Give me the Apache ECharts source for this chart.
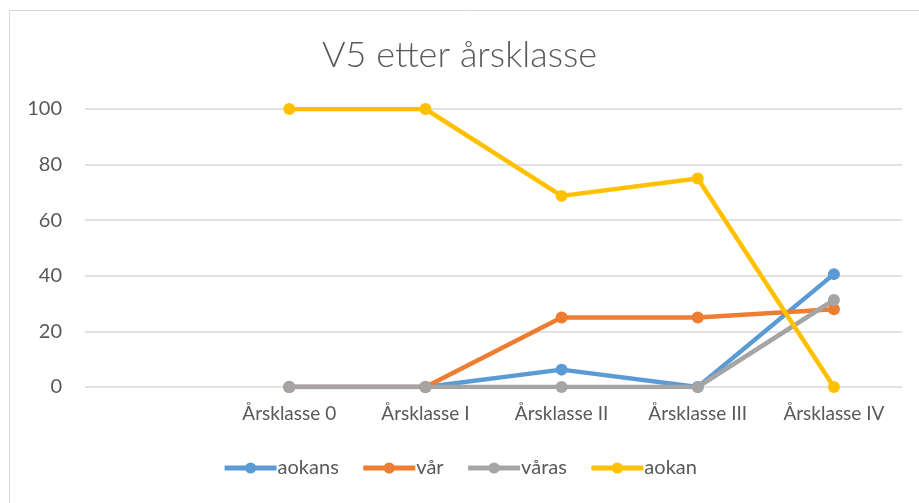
<!DOCTYPE html>
<html>
<head>
<meta charset="UTF-8">
<title>V5 etter årsklasse</title>
<script src="https://cdn.jsdelivr.net/npm/echarts@6/dist/echarts.min.js"></script>
<style>
  html, body { margin:0; padding:0; background:#fff; }
  #chart { width:919px; height:503px; }
</style>
</head>
<body>
<div id="chart"></div>
<script type="text/javascript">
// first category is empty in the source sheet
var categories = ['', 'Årsklasse 0', 'Årsklasse I', 'Årsklasse II', 'Årsklasse III', 'Årsklasse IV'];
var aokans = [null, 0, 0, 6.25, 0, 40.6];
var vaar   = [null, 0, 0, 25, 25, 28];
var vaaras = [null, 0, 0, 0, 0, 31.3];
var aokan  = [null, 100, 100, 68.75, 75, 0];

var names = ['aokans', 'vår', 'våras', 'aokan'];
var colors = ['#5b9bd5', '#ed7d31', '#a5a5a5', '#ffc000'];
var values = [aokans, vaar, vaaras, aokan];

var font = 'Lato, "Open Sans", sans-serif';

function makeSeries(){
	var list = [];
	for(var i=0; i<names.length; i++){
		list.push({
			name: names[i],
			type: 'line',
			data: values[i],
			symbol: 'circle',
			symbolSize: 12,
			lineStyle: { width: 4.5, color: colors[i] },
			itemStyle: { color: colors[i] },
			emphasis: { disabled: true },
			animation: false
		});
	}
	return list;
}

var myChart = echarts.init(document.getElementById('chart'));
var option = {
	backgroundColor: '#fff',
	color: colors,
	graphic: [{
		type: 'rect',
		shape: { x: 9.5, y: 10.5, width: 930, height: 520 },
		style: { fill: 'none', stroke: '#d9d9d9', lineWidth: 1 },
		silent: true
	}],
	title: {
		text: 'V5 etter årsklasse',
		left: 'center',
		top: 32,
		textStyle: { fontFamily: font, fontWeight: 300, fontSize: 36, color: '#595959' }
	},
	legend: {
		data: names,
		bottom: 20,
		left: 'center',
		itemWidth: 52,
		itemHeight: 14,
		itemGap: 22,
		lineStyle: { width: 5 },
		textStyle: { fontFamily: font, fontSize: 20, color: '#595959', padding: [0, 0, 0, -4] }
	},
	grid: { left: 85, right: 17, top: 109, bottom: 116 },
	xAxis: {
		type: 'category',
		data: categories,
		boundaryGap: true,
		axisLine: { show: false },
		axisTick: { show: false },
		axisLabel: { interval: 0, fontFamily: font, fontSize: 19, color: '#595959', margin: 17 }
	},
	yAxis: {
		type: 'value',
		min: 0,
		max: 100,
		interval: 20,
		axisLine: { show: false },
		axisTick: { show: false },
		axisLabel: { fontFamily: font, fontSize: 20, color: '#595959', margin: 23 },
		splitLine: { lineStyle: { color: '#d9d9d9', width: 1.5 } }
	},
	series: makeSeries()
};
myChart.setOption(option);
</script>
</body>
</html>
